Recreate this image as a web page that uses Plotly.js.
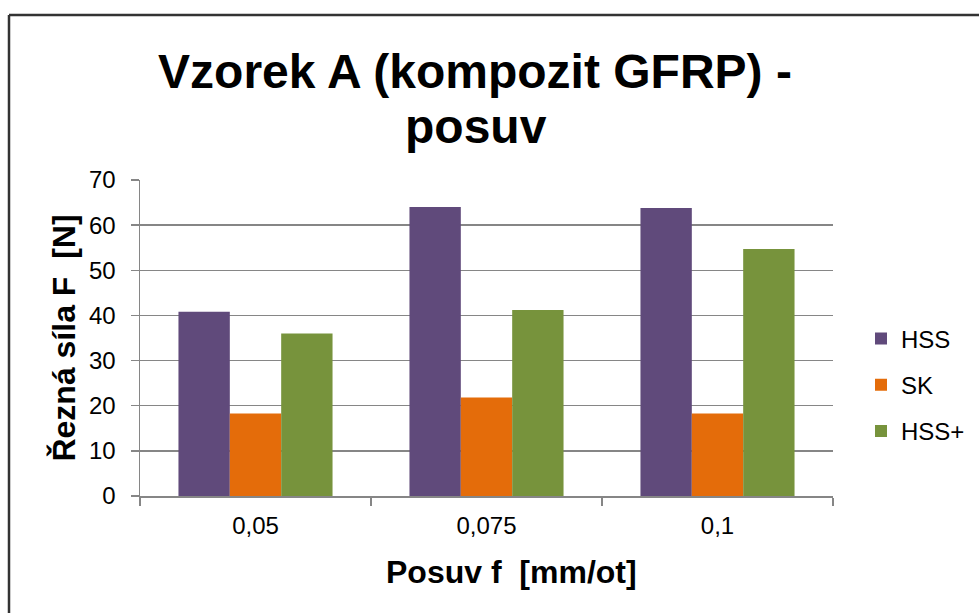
<!DOCTYPE html>
<html>
<head>
<meta charset="utf-8">
<script src="https://cdn.plot.ly/plotly-3.0.1.min.js"></script>
<style>
  html, body { margin: 0; padding: 0; background: #fff; }
  #chart { width: 979px; height: 613px; }
</style>
</head>
<body>
<div id="chart"></div>
<script>
const categories = ['0,05', '0,075', '0,1'];
const seriesNames = ['HSS', 'SK', 'HSS+'];
const hss = [40.8, 64.0, 63.8];
const sk = [18.3, 21.8, 18.3];
const hssPlus = [36.0, 41.2, 54.7];
const seriesColors = ['#604A7B', '#E46C0A', '#77933C'];
const titleLine1 = 'Vzorek A (kompozit GFRP) -';
const titleLine2 = 'posuv';

const FONT = 'Arial, "Liberation Sans", sans-serif';
const values = [hss, sk, hssPlus];

const traces = values.map((v, i) => ({
  type: 'bar',
  name: seriesNames[i],
  x: categories,
  y: v,
  legendgroup: 'g' + i,
  marker: { color: seriesColors[i], line: { width: 0 } },
  hoverinfo: 'x+y+name'
}));

const W = 979, H = 613;
const L = 140, R = 146, T = 180, B = 117;
const pw = W - L - R, ph = H - T - B;
const px = x => (x - L) / pw;
const py = y => (H - B - y) / ph;

const layout = {
  width: W,
  height: H,
  margin: { l: L, r: R, t: T, b: B, pad: 0, autoexpand: false },
  paper_bgcolor: '#ffffff',
  plot_bgcolor: '#ffffff',
  font: { family: FONT, color: '#000000', size: 24 },
  title: {
    text: '<b>' + titleLine1 + '</b>',
    font: { family: FONT, size: 48, color: '#000000' },
    x: 475 / W, xanchor: 'center', xref: 'container',
    y: 1 - 71 / H, yanchor: 'middle', yref: 'container'
  },
  barmode: 'group',
  bargap: 0.333,
  bargroupgap: 0,
  showlegend: true,
  legend: {
    x: px(861), xanchor: 'left',
    y: py(385), yanchor: 'middle',
    font: { family: FONT, size: 24, color: '#000000' },
    tracegroupgap: 12,
    traceorder: 'grouped',
    bgcolor: 'rgba(0,0,0,0)'
  },
  xaxis: {
    type: 'category',
    showline: true, linecolor: '#868686', linewidth: 1.5,
    ticks: 'outside', ticklen: 8, tickcolor: '#868686', tickwidth: 1.5,
    tickson: 'boundaries',
    showgrid: false, zeroline: false,
    tickfont: { family: FONT, size: 24, color: '#000000' },
    ticklabelstandoff: 8
  },
  yaxis: {
    range: [0, 70], dtick: 10, tick0: 0,
    showline: true, linecolor: '#868686', linewidth: 1.5,
    ticks: 'outside', ticklen: 8, tickcolor: '#868686', tickwidth: 1.5,
    showgrid: true, gridcolor: '#868686', gridwidth: 1.5,
    zeroline: false,
    tickfont: { family: FONT, size: 24, color: '#000000' },
    ticklabelstandoff: 10,
    title: {
      text: '<b>Řezná síla F\u00a0\u00a0[N]</b>',
      font: { family: FONT, size: 32, color: '#000000' },
      standoff: 4
    }
  },
  annotations: [
    {
      text: '<b>' + titleLine2 + '</b>',
      xref: 'paper', yref: 'paper',
      x: px(476), y: py(126),
      xanchor: 'center', yanchor: 'middle',
      showarrow: false,
      font: { family: FONT, size: 48, color: '#000000' }
    },
    {
      text: '<b>Posuv f\u00a0\u00a0[mm/ot]</b>',
      xref: 'paper', yref: 'paper',
      x: px(511), y: py(572),
      xanchor: 'center', yanchor: 'middle',
      showarrow: false,
      font: { family: FONT, size: 32, color: '#000000' }
    }
  ],
  shapes: [
    { type: 'line', xref: 'paper', yref: 'paper',
      x0: px(9), x1: px(9), y0: py(15), y1: py(640),
      line: { color: '#333333', width: 2.5 } },
    { type: 'line', xref: 'paper', yref: 'paper',
      x0: px(9), x1: px(990), y0: py(15), y1: py(15),
      line: { color: '#333333', width: 2.5 } }
  ]
};

Plotly.newPlot('chart', traces, layout, { displayModeBar: false, staticPlot: true });
</script>
</body>
</html>
